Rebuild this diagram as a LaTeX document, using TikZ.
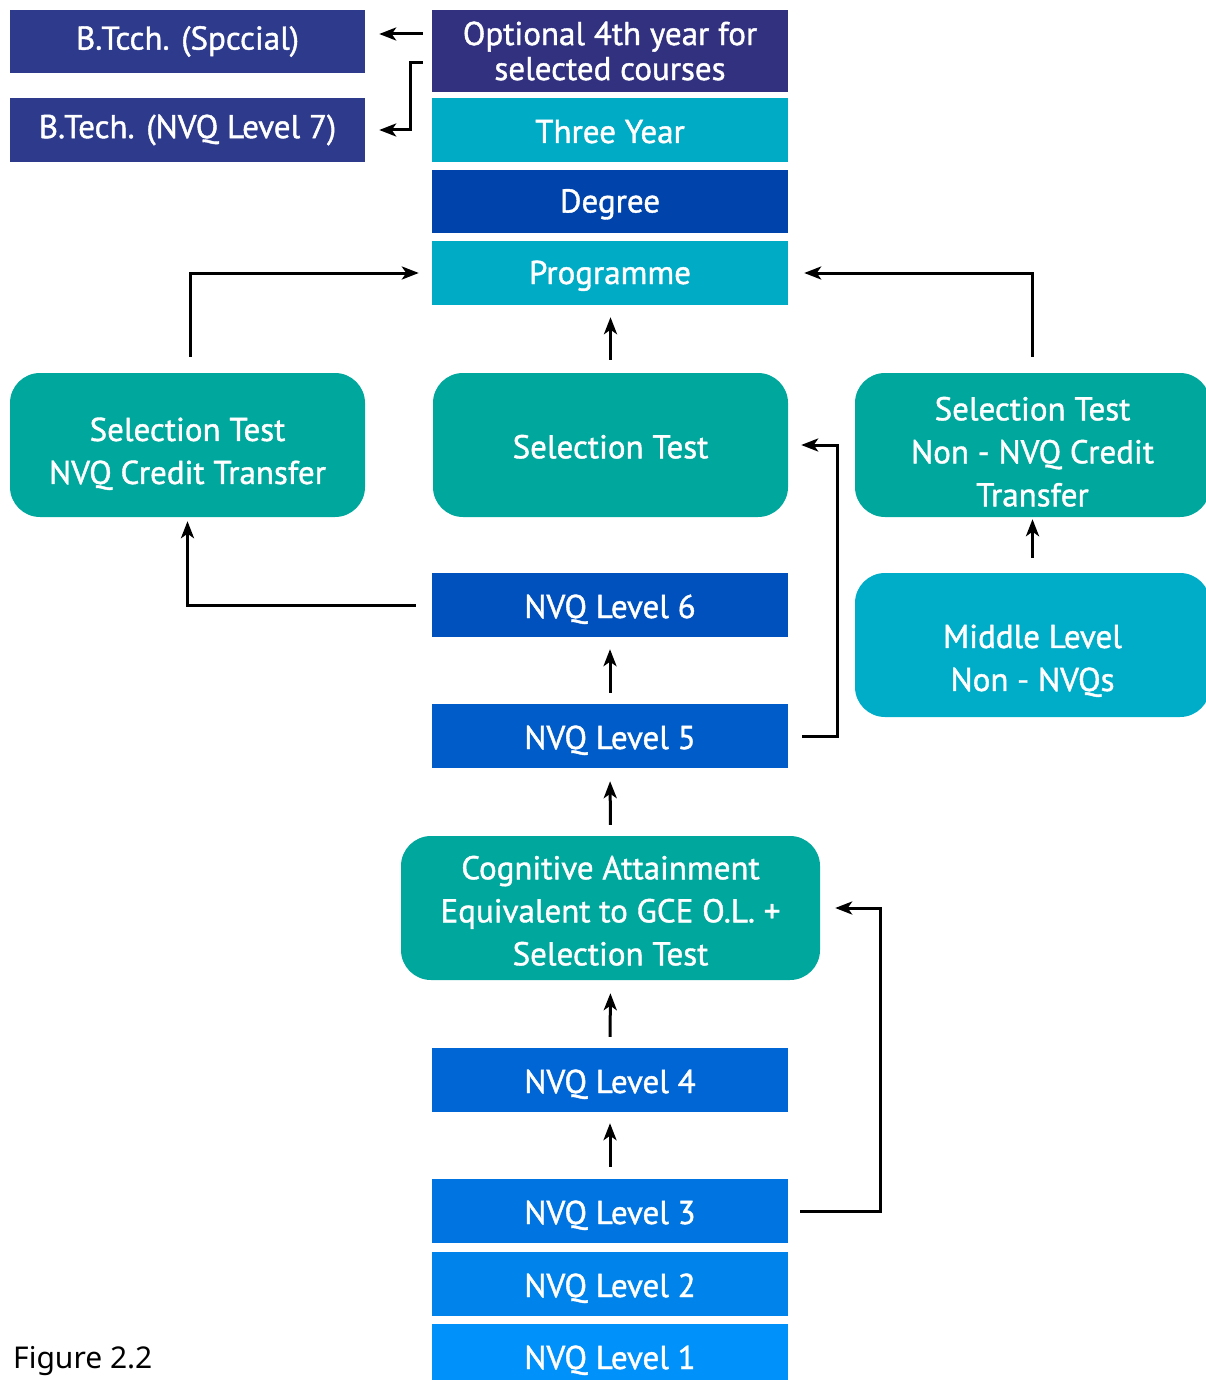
\documentclass[tikz,border=0pt]{standalone}
\usepackage{fontspec}
\setmainfont{PT Sans}[FakeBold=1.2]
\newfontfamily\capfont{Noto Sans}
\usetikzlibrary{arrows.meta}
\definecolor{cIndigo}{HTML}{2E3A8C}
\definecolor{cOpt}{HTML}{32317F}
\definecolor{cCyan}{HTML}{00ABC6}
\definecolor{cDeg}{HTML}{0043AB}
\definecolor{cTeal}{HTML}{00A79C}
\definecolor{cMid}{HTML}{00ADC9}
\definecolor{cSix}{HTML}{0050BD}
\definecolor{cFive}{HTML}{005CC8}
\definecolor{cFour}{HTML}{0066D6}
\definecolor{cThree}{HTML}{0075E1}
\definecolor{cTwo}{HTML}{0084EC}
\definecolor{cOne}{HTML}{0091FB}
% invisible strut that lowers the first line of a block of text
\newcommand\topgap[1]{\rule{0pt}{#1}}
\tikzset{
  bar/.style={rectangle, inner sep=0pt, minimum width=356pt, minimum height=64pt,
    text=white, align=center, font={\fontsize{33}{35}\selectfont}},
  mid line/.style={text height=25pt, text depth=3pt},
  low line/.style={text height=29pt, text depth=3pt},
  pill/.style={rectangle, rounded corners=30pt, inner sep=0pt, minimum width=355pt,
    minimum height=144pt, fill=cTeal, text=white, align=center,
    font={\fontsize{33}{43}\selectfont}},
  arr/.style={line width=3pt, -{Stealth[length=17pt,width=13pt,inset=4.5pt]}},
}
\begin{document}
\begin{tikzpicture}[x=1pt,y=-1pt]
\useasboundingbox (0,0) rectangle (1206,1380);

% top block: degree programme
\node[bar, fill=cIndigo, minimum width=355pt, minimum height=63pt] (bts) at (187.5,41.5) {B.Tcch. (Spccial)};
\node[bar, fill=cIndigo, minimum width=355pt] (btn) at (187.5,130) {B.Tech. (NVQ Level 7)};
\node[bar, fill=cOpt, minimum height=82pt] (opt) at (610,51) {Optional 4th year for\\selected courses};
\node[bar, low line, fill=cCyan] (three) at (610,130) {Three Year};
\node[bar, mid line, fill=cDeg, minimum height=63pt] (deg) at (610,201.5) {Degree};
\node[bar, mid line, fill=cCyan] (prog) at (610,273) {Programme};

% selection tests
\node[pill] (lsel) at (187.5,445) {\topgap{41pt}Selection Test\\NVQ Credit Transfer};
\node[pill] (sel) at (610.5,445) {\topgap{27pt}Selection Test};
\node[pill] (rsel) at (1032.5,445) {\topgap{37pt}Selection Test\\Non - NVQ Credit\\Transfer};
\node[pill, fill=cMid] (mid) at (1032.5,645) {\topgap{55pt}Middle Level\\Non - NVQs};

% NVQ ladder
\node[bar, low line, fill=cSix] (n6) at (610,605) {NVQ Level 6};
\node[bar, low line, fill=cFive] (n5) at (610,736) {NVQ Level 5};
\node[pill, minimum width=419pt] (cog) at (610.5,908) {\topgap{29pt}Cognitive Attainment\\Equivalent to GCE O.L. +\\Selection Test};
\node[bar, low line, fill=cFour] (n4) at (610,1080) {NVQ Level 4};
\node[bar, low line, fill=cThree] (n3) at (610,1211) {NVQ Level 3};
\node[bar, low line, fill=cTwo] (n2) at (610,1284) {NVQ Level 2};
\node[bar, low line, fill=cOne] (n1) at (610,1356) {NVQ Level 1};

\node[anchor=base west, inner sep=0pt, font={\capfont\fontsize{30}{36}\selectfont}] (fig) at (13,1368) {Figure 2.2};

% connectors
\draw[arr, shorten <=9pt, shorten >=14pt] ([yshift=17pt]opt.west) coordinate (o1) -- (o1 -| bts.east);
\draw[arr, shorten <=9pt, shorten >=14pt] ([yshift=-12pt]opt.west) coordinate (o2) -- ([xshift=-21pt]o2) |- (btn.east);
\draw[arr, shorten <=16pt, shorten >=13pt] ([xshift=3pt]lsel.north) |- (prog.west);
\draw[arr, shorten <=16pt, shorten >=16pt] (rsel.north) |- (prog.east);
\draw[arr, shorten <=13pt, shorten >=12pt] (sel.north) -- (sel.north |- prog.south);
\draw[arr, shorten <=16pt, shorten >=4pt] (n6.west) -| (lsel.south);
\draw[arr, shorten <=14pt, shorten >=13pt] (n5.east) -- ([xshift=49pt]n5.east) |- (sel.east);
\draw[arr, shorten <=15pt, shorten >=2pt] (mid.north) -- (rsel.south);
\draw[arr, shorten <=11pt, shorten >=12pt] (n5.north) -- (n6.south);
\draw[arr, shorten <=11pt, shorten >=13pt] (cog.north) -- (n5.south);
\draw[arr, shorten <=11pt, shorten >=13pt] (n4.north) -- (cog.south);
\draw[arr, shorten <=12pt, shorten >=11pt] (n3.north) -- (n4.south);
\draw[arr, shorten <=12pt, shorten >=15pt] (n3.east) -- ([xshift=92pt]n3.east) |- (cog.east);
\end{tikzpicture}
\end{document}
